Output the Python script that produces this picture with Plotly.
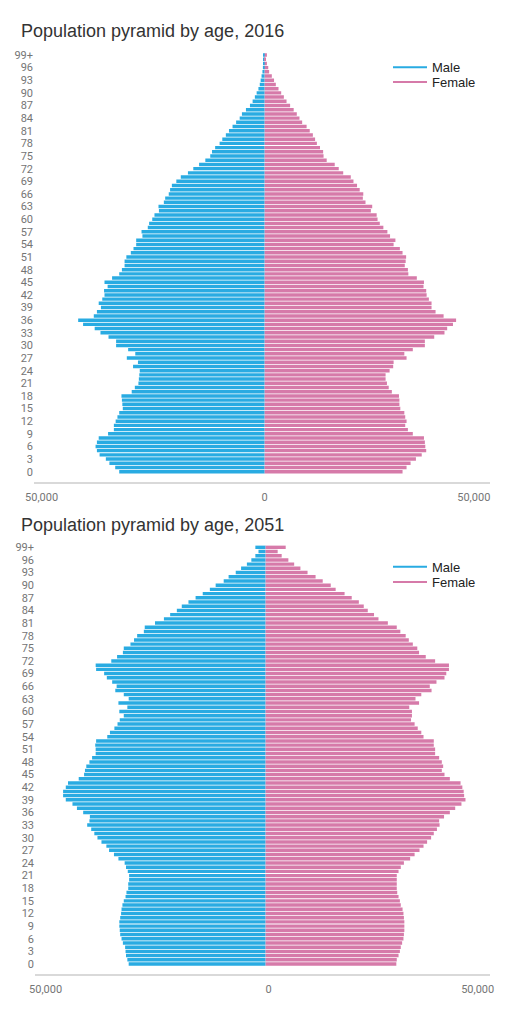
import plotly.graph_objects as go

W, H = 511, 1011

ages = [str(a) for a in range(99)] + ["99+"]
age_ticks = ["0", "3", "6", "9", "12", "15", "18", "21", "24", "27", "30", "33",
             "36", "39", "42", "45", "48", "51", "54", "57", "60", "63", "66",
             "69", "72", "75", "78", "81", "84", "87", "90", "93", "96", "99+"]
x_tickvals = [-50000, 0]
x_ticktext = ["50,000", "0"]
x_tickvals_right = [50000]
x_ticktext_right = ["50,000"]

titles = ["Population pyramid by age, 2016", "Population pyramid by age, 2051"]

# ages 0 .. 99+
male_2016 = [32600, 33500, 34800, 35600, 37000, 37600, 37900, 37600, 37200, 35100,
             33800, 33800, 33400, 33000, 32600, 31800, 31900, 32000, 32100, 29800,
             29100, 28300, 28200, 28100, 28000, 29500, 28400, 30900, 29000, 30600,
             33300, 33300, 35000, 36800, 38100, 40700, 41800, 38300, 37600, 36700,
             37200, 36400, 35900, 36000, 35200, 35900, 34200, 32600, 32000, 31400,
             31400, 31000, 30000, 29400, 28800, 28800, 27400, 27600, 26200, 25900,
             25200, 24700, 23700, 23800, 22600, 22300, 21500, 21200, 20800, 19800,
             18800, 17200, 16000, 14700, 13300, 12200, 11800, 11100, 10100, 9500,
             8700, 8000, 7200, 6400, 5600, 5100, 4200, 3300, 2700, 2200,
             1800, 1400, 1100, 900, 700, 500, 400, 300, 200, 200]
female_2016 = [30900, 31800, 32700, 33900, 35200, 36200, 36000, 35900, 35700, 33200,
               32100, 31500, 31800, 31500, 31300, 30400, 30200, 30200, 30100, 28500,
               27800, 27400, 27100, 27100, 28000, 28800, 28900, 31800, 31300, 33200,
               35900, 35900, 38000, 40300, 40900, 42200, 42900, 40100, 38300, 37400,
               37400, 36800, 36300, 36200, 35600, 35700, 34100, 32200, 32100, 31400,
               31600, 31700, 30900, 30300, 28900, 29300, 28100, 27500, 26600, 25800,
               25300, 25100, 23800, 24100, 22600, 22000, 22100, 21300, 20700, 19900,
               19300, 17600, 16600, 15700, 13900, 13200, 13100, 12400, 11700, 11300,
               10800, 10100, 9400, 8400, 7800, 7200, 6500, 5700, 4900, 4300,
               3700, 3100, 2500, 2100, 1600, 1000, 800, 500, 300, 500]
male_2051 = [30700, 31000, 31300, 31400, 31500, 32000, 32300, 32600, 32700, 32800,
             32800, 32600, 32400, 32300, 32100, 31800, 31400, 31200, 30800, 30800,
             30600, 30600, 30900, 31300, 31600, 33000, 34000, 35100, 35700, 36800,
             37700, 38400, 39100, 40000, 39500, 39400, 40900, 42300, 43300, 44800,
             45400, 45400, 44800, 44300, 41900, 40700, 40500, 40200, 39500, 38900,
             38100, 38100, 38200, 38000, 35500, 34900, 33900, 33200, 32700, 31800,
             32800, 31000, 33000, 30700, 31800, 33700, 33400, 34400, 35600, 36200,
             38000, 38100, 34600, 33300, 32000, 31800, 30300, 29500, 28800, 27300,
             27100, 24800, 22800, 21400, 19900, 18800, 17300, 15700, 14100, 12500,
             11200, 9400, 8300, 6700, 5500, 4200, 3200, 2300, 1600, 2300]
female_2051 = [29300, 29400, 29800, 30100, 30300, 30600, 30900, 31000, 31100, 31100,
               31100, 31000, 30900, 30700, 30300, 30100, 29800, 29500, 29400, 29400,
               29400, 29400, 29800, 30300, 31000, 32400, 33400, 34500, 35400, 36200,
               37100, 37700, 38400, 39000, 38900, 40000, 41300, 42500, 43900, 44800,
               44500, 44400, 44100, 43700, 41300, 40100, 39500, 39800, 39500, 38900,
               38000, 38000, 37700, 37700, 35400, 34900, 34100, 33400, 32600, 32800,
               32800, 32200, 34400, 33600, 34900, 37200, 36800, 38300, 40100, 40500,
               41100, 41100, 38000, 35900, 34400, 34000, 33000, 32100, 31400, 30200,
               29400, 27400, 25300, 24300, 22900, 22000, 20900, 19300, 17700, 15700,
               14600, 12800, 11200, 9400, 7800, 6400, 5100, 3600, 2700, 4500]

MALE = "#29abe2"
FEMALE = "#d67aa9"
TICK_FONT = dict(family="Roboto, Arial, sans-serif", size=11, color="#757575")
TXT_FONT = "Arial, 'Liberation Sans', sans-serif"


def py(p):
    """pixel row (from top) -> paper y"""
    return 1 - p / H


panels = [
    dict(m=male_2016, f=female_2016, xd=(34, 490), xr=(-51700, 50500),
         yd=(52.9, 482.3), yr=(-2.52, 99.5), ty=31, lm=(66.3, "legend"),
         lf=(81.0, "legend2"), xa="x", ya="y", xo="x3", shift=0, rshift=-14),
    dict(m=male_2051, f=female_2051, xd=(35, 490), xr=(-51700, 50300),
         yd=(545.2, 974.3), yr=(-2.45, 99.5), ty=525, lm=(565.7, "legend3"),
         lf=(581.0, "legend4"), xa="x2", ya="y2", xo="x4", shift=3, rshift=-11),
]

fig = go.Figure()
layout = dict(width=W, height=H,
              margin=dict(l=0, r=0, t=0, b=0, pad=0, autoexpand=False),
              paper_bgcolor="white", plot_bgcolor="white",
              barmode="relative", bargap=0.18, showlegend=True,
              annotations=[])

for i, p in enumerate(panels):
    fig.add_trace(go.Bar(y=ages, x=[-v for v in p["m"]], orientation="h",
                         name="Male", marker=dict(color=MALE, line=dict(width=0)),
                         xaxis=p["xa"], yaxis=p["ya"], showlegend=False,
                         customdata=p["m"],
                         hovertemplate="Age %{y}: %{customdata:,}<extra>Male</extra>"))
    fig.add_trace(go.Bar(y=ages, x=p["f"], orientation="h",
                         name="Female", marker=dict(color=FEMALE, line=dict(width=0)),
                         xaxis=p["xa"], yaxis=p["ya"], showlegend=False,
                         hovertemplate="Age %{y}: %{x:,}<extra>Female</extra>"))
    for (cy, lg), nm, col in ((p["lm"], "Male", MALE), (p["lf"], "Female", FEMALE)):
        fig.add_trace(go.Scatter(x=[None], y=[None], mode="lines", name=nm,
                                 line=dict(color=col, width=2),
                                 xaxis=p["xa"], yaxis=p["ya"], legend=lg))
        layout[lg] = dict(x=388 / W, y=py(cy - 14), xanchor="left", yanchor="top",
                          bgcolor="rgba(0,0,0,0)", borderwidth=0, itemwidth=34,
                          font=dict(family=TXT_FONT, size=13, color="#222222"))
    # empty helper trace so the overlaid axis carrying the right-hand label is drawn
    fig.add_trace(go.Scatter(x=[None], y=[None], mode="lines", showlegend=False,
                             hoverinfo="skip", xaxis=p["xo"], yaxis=p["ya"]))

    xk = "xaxis" if i == 0 else "xaxis2"
    yk = "yaxis" if i == 0 else "yaxis2"
    xok = "xaxis" + p["xo"][1:]
    common_x = dict(range=list(p["xr"]), showgrid=False, zeroline=False,
                    showline=True, linecolor="#d9d9d9", linewidth=2, ticks="",
                    ticklabelstandoff=3, tickfont=TICK_FONT, fixedrange=True,
                    automargin=False)
    layout[xk] = dict(domain=[p["xd"][0] / W, p["xd"][1] / W], anchor=p["ya"],
                      tickvals=x_tickvals, ticktext=x_ticktext,
                      ticklabelshift=p["shift"], **common_x)
    layout[xok] = dict(overlaying=p["xa"], anchor=p["ya"], side="bottom",
                       tickvals=x_tickvals_right, ticktext=x_ticktext_right,
                       ticklabelshift=p["rshift"], **common_x)
    layout[yk] = dict(domain=[py(p["yd"][1]), py(p["yd"][0])], range=list(p["yr"]),
                      anchor=p["xa"], type="category", categoryorder="array",
                      categoryarray=ages, tickvals=age_ticks, ticktext=age_ticks,
                      showgrid=False, zeroline=False, showline=False, ticks="",
                      tickfont=TICK_FONT, fixedrange=True, automargin=False)
    layout["annotations"].append(dict(text=titles[i], xref="paper", yref="paper",
                                      x=18.5 / W, y=py(p["ty"]), xanchor="left",
                                      yanchor="middle", showarrow=False,
                                      font=dict(family=TXT_FONT, size=18, color="#333333")))

fig.update_layout(**layout)
fig.write_html("out.html", config={"displayModeBar": False},
               post_script="document.body.style.margin='0';")
